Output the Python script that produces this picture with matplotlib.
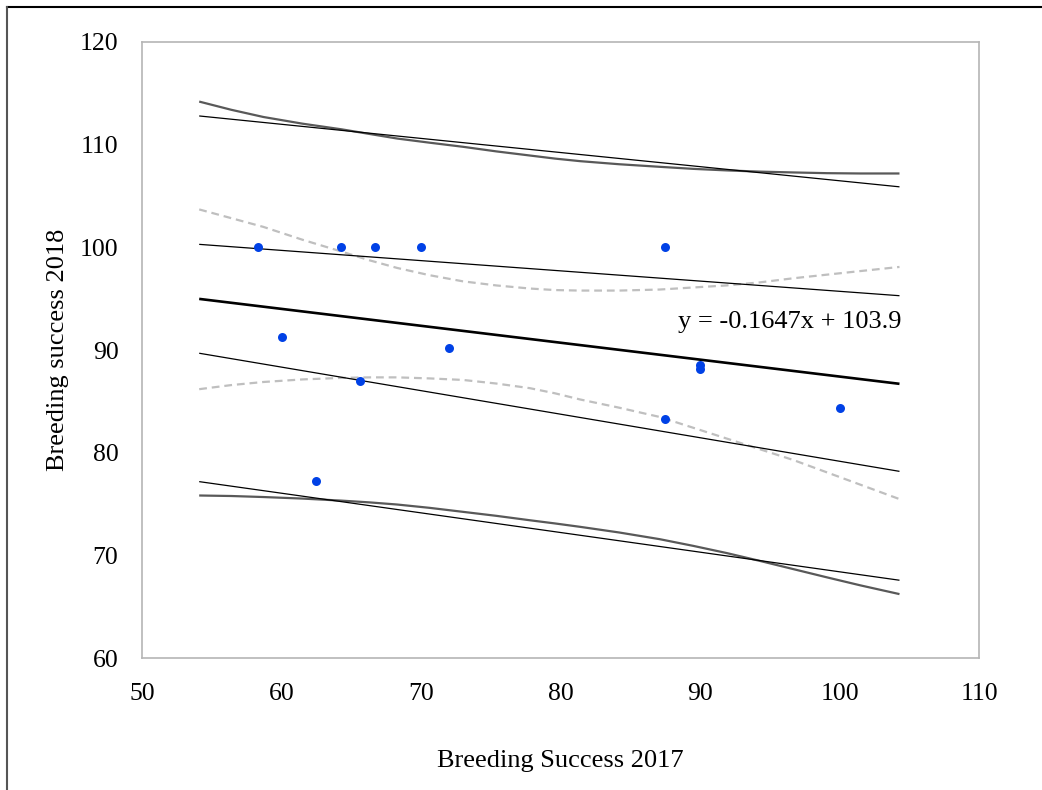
import matplotlib
matplotlib.use("Agg")
import matplotlib.pyplot as plt
from matplotlib.lines import Line2D

plt.rcParams['font.family'] = ['Liberation Serif', 'DejaVu Serif']

# ---- data ----
bs2017 = [58.3, 60.0, 62.5, 64.3, 65.6, 66.7, 70.0, 72.0, 87.5, 87.5, 90.0, 90.0, 100.0]
bs2018 = [100.0, 91.3, 77.3, 100.0, 87.0, 100.0, 100.0, 90.2, 100.0, 83.3, 88.6, 88.2, 84.4]

slope = -0.1647
intercept = 103.9
line_x = [54.1, 104.3]

# straight thin band lines (values at line_x ends)
upper_outer_line = [112.8, 105.9]
upper_inner_line = [100.3, 95.3]
lower_inner_line = [89.7, 78.2]
lower_outer_line = [77.2, 67.6]

# curved bands, read at these x positions
curve_x = [54.1, 56.4, 58.7, 61.5, 64.3, 66.3, 68.3, 70.6, 73.0, 75.4, 77.8, 79.6,
           81.4, 84.2, 87.1, 89.5, 91.9, 94.3, 96.7, 99.1, 101.5, 104.3]
upper_dark = [114.2, 113.4, 112.7, 112.05, 111.5, 111.05, 110.6, 110.2, 109.8, 109.35, 108.95, 108.65,
              108.4, 108.1, 107.85, 107.65, 107.5, 107.38, 107.3, 107.23, 107.2, 107.2]
lower_dark = [75.85, 75.8, 75.7, 75.55, 75.35, 75.18, 74.97, 74.65, 74.26, 73.87, 73.44, 73.13,
              72.8, 72.25, 71.6, 70.95, 70.25, 69.48, 68.68, 67.88, 67.1, 66.25]
upper_dash = [103.7, 102.85, 102.0, 100.75, 99.6, 98.75, 98.0, 97.3, 96.7, 96.3, 96.0, 95.85,
              95.8, 95.8, 95.9, 96.1, 96.3, 96.6, 97.0, 97.35, 97.7, 98.1]
lower_dash = [86.2, 86.6, 86.9, 87.15, 87.3, 87.35, 87.35, 87.25, 87.1, 86.75, 86.3, 85.8,
              85.2, 84.4, 83.5, 82.45, 81.4, 80.35, 79.3, 78.1, 76.9, 75.5]

x_ticks = [50, 60, 70, 80, 90, 100, 110]
y_ticks = [60, 70, 80, 90, 100, 110, 120]

fig = plt.figure(figsize=(10.42, 7.9), dpi=100)
ax = fig.add_axes([142/1042, (790-658.3)/790, (979-142)/1042, (658.3-42)/790])

fit_y = [slope * v + intercept for v in line_x]

ax.plot(curve_x, upper_dark, color='#595959', lw=1.6, solid_capstyle='butt', solid_joinstyle='round')
ax.plot(curve_x, lower_dark, color='#595959', lw=1.6, solid_capstyle='butt', solid_joinstyle='round')
ax.plot(curve_x, upper_dash, color='#BFBFBF', lw=1.6, ls=(0, (3.5, 2.2)))
ax.plot(curve_x, lower_dash, color='#BFBFBF', lw=1.6, ls=(0, (3.5, 2.2)))
for band in (upper_outer_line, upper_inner_line, lower_inner_line, lower_outer_line):
    ax.plot(line_x, band, color='black', lw=0.9, solid_capstyle='butt')
ax.plot(line_x, fit_y, color='black', lw=1.9, solid_capstyle='butt')

ax.scatter(bs2017, bs2018, s=42, color='#0041E6', zorder=5, linewidths=0)

ax.text(88.4, 92.7, 'y = -0.1647x + 103.9', fontsize=19, ha='left', va='center')

ax.set_xlim(50, 110)
ax.set_ylim(60, 120)
ax.set_xticks(x_ticks)
ax.set_yticks(y_ticks)
ax.tick_params(length=0, labelsize=18.5)
ax.tick_params(axis='x', pad=18)
ax.tick_params(axis='y', pad=17)
for sp in ax.spines.values():
    sp.set_color('#B5B5B5')
    sp.set_linewidth(1.2)

ax.set_xlabel('Breeding Success 2017', fontsize=19, labelpad=32)
ax.set_ylabel('Breeding success 2018', fontsize=19, labelpad=8)

# outer frame (top and left edges)
fig.add_artist(Line2D([7/1042, 1.0], [1 - 7/790, 1 - 7/790], transform=fig.transFigure, color='black', lw=1.5))
fig.add_artist(Line2D([7/1042, 7/1042], [0.0, 1 - 7/790], transform=fig.transFigure, color='#555555', lw=1.5))

fig.savefig('out.png', dpi=100)
